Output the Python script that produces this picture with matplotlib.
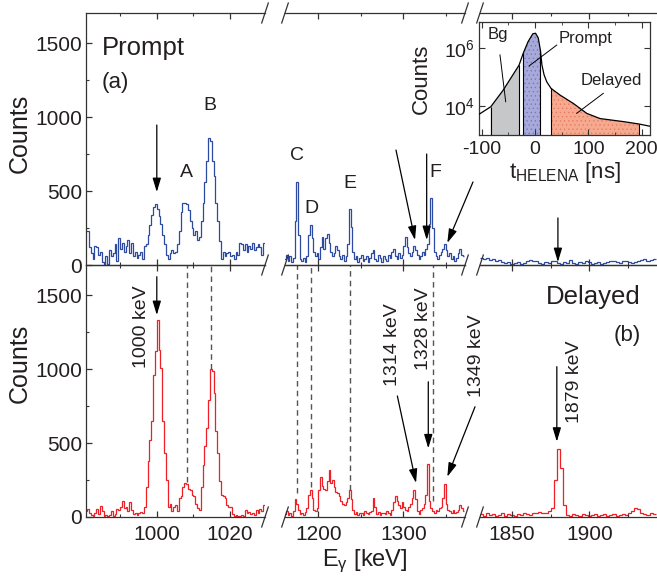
import numpy as np
import matplotlib
matplotlib.use("Agg")
import matplotlib.pyplot as plt
from matplotlib.lines import Line2D
from matplotlib.ticker import MultipleLocator, LogLocator, NullFormatter

plt.rcParams['font.family'] = ['Liberation Sans', 'DejaVu Sans']
plt.rcParams['mathtext.fontset'] = 'custom'
plt.rcParams['mathtext.rm'] = 'Liberation Sans'
plt.rcParams['mathtext.it'] = 'Liberation Sans:italic'
plt.rcParams['mathtext.default'] = 'regular'
plt.rcParams['axes.unicode_minus'] = False
plt.rcParams['hatch.linewidth'] = 0.4

TXT = '#231f20'
BLUE = '#2c4aa0'
RED = '#ee2026'

# ---- spectra (counts per bin) ----
# segment 1: 0.5 keV bins starting at 980.5 keV
start1, width1 = 980.5, 0.5
prompt1 = [230, 230, 120, 80, 40, 130, 120, 70, 90, 20, 0, 60, 10, 100, 60, 80, 140, 30, 180, 110,
           150, 90, 130, 170, 80, 150, 60, 90, 50, 70, 90, 40, 130, 140, 200, 270, 340, 390, 410, 380,
           330, 280, 200, 140, 70, 40, 80, 100, 80, 90, 140, 230, 360, 420, 420, 410, 370, 300, 250, 200,
           230, 170, 190, 300, 420, 560, 700, 860, 840, 700, 600, 420, 300, 160, 40, 90, 60, 80, 90, 60,
           70, 40, 90, 70, 150, 140, 100, 140, 90, 130, 110, 150, 100, 120, 140, 120, 70, 150]
delayed1 = [40, 55, 25, 15, 10, 30, 55, 20, 75, 40, 10, 15, 10, 15, 40, 10, 20, 55, 45, 65,
            110, 60, 70, 40, 100, 50, 20, 25, 15, 30, 35, 25, 70, 200, 380, 520, 650, 960, 1120, 1330,
            1130, 1010, 650, 430, 250, 70, 90, 40, 70, 80, 40, 130, 140, 200, 230, 225, 190, 180, 150, 140,
            90, 60, 50, 200, 350, 480, 600, 790, 1000, 990, 840, 580, 430, 240, 150, 140, 130, 80, 70, 70,
            20, 10, 15, 10, 10, 15, 10, 45, 30, 35, 20, 25, 15, 45, 30, 55, 40, 80]

# segment 2: 2 keV bins starting at 1160 keV
start2, width2 = 1160, 2
prompt2 = [40, 70, 30, 60, 20, 50, 300, 560, 200, 40, 30, 50, 20, 60, 200, 270, 180, 90, 60, 80,
           40, 120, 190, 110, 180, 210, 150, 90, 60, 80, 130, 100, 60, 40, 70, 30, 60, 140, 380, 260,
           90, 40, 60, 20, 50, 70, 30, 40, 60, 20, 50, 80, 100, 40, 30, 70, 50, 20, 60, 40,
           30, 70, 50, 90, 110, 60, 40, 80, 50, 70, 130, 190, 120, 80, 60, 90, 130, 100, 70, 40,
           60, 90, 70, 110, 140, 280, 450, 250, 90, 60, 40, 70, 90, 110, 140, 100, 60, 80, 40, 60,
           30, 50, 80, 110, 70, 60]
delayed2 = [20, 40, 15, 30, 10, 40, 120, 90, 50, 20, 30, 15, 35, 60, 150, 185, 130, 50, 40, 60,
            180, 270, 210, 190, 180, 240, 320, 230, 250, 200, 170, 160, 140, 110, 90, 80, 100, 130, 180, 120,
            50, 20, 35, 15, 25, 30, 15, 40, 25, 20, 35, 40, 130, 70, 20, 35, 15, 25, 30, 20,
            40, 25, 15, 45, 100, 140, 110, 80, 60, 100, 70, 50, 40, 70, 90, 130, 180, 120, 40, 20,
            45, 60, 90, 150, 355, 110, 60, 40, 30, 45, 40, 60, 70, 130, 220, 90, 50, 40, 30, 45,
            30, 35, 50, 80, 60, 40]

# segment 3: 2 keV bins starting at 1829 keV
start3, width3 = 1829, 2
prompt3 = [50, 40, 45, 35, 40, 30, 35, 20, 15, 20, 10, 15, 20, 10, 15, 25, 35, 30, 25, 15,
           10, 20, 15, 30, 25, 15, 10, 20, 15, 35, 15, 10, 20, 15, 25, 20, 10, 15, 20, 10,
           15, 20, 25, 30, 20, 15, 25, 30, 20, 15, 20, 30, 35, 40, 30, 35, 40]
delayed3 = [20, 10, 25, 15, 20, 10, 15, 25, 10, 20, 15, 10, 20, 15, 25, 20, 15, 30, 25, 35,
            25, 30, 40, 60, 250, 460, 330, 80, 15, 10, 20, 15, 10, 20, 15, 10, 15, 20, 10, 15,
            20, 10, 15, 20, 10, 15, 20, 15, 25, 40, 60, 55, 30, 20, 15, 25, 20]

seg_data = [(start1, width1, prompt1, delayed1),
            (start2, width2, prompt2, delayed2),
            (start3, width3, prompt3, delayed3)]
seg_xlim = [(980.7, 1029.5), (1160.8, 1372.6), (1829.3, 1943.8)]
seg_major = [20, 100, 50]
seg_minor = [10, 50, 25]

# dashed marker lines in delayed panel: (segment, energy, lower end in counts)
dash_seg = [0, 0, 1, 1, 1, 1]
dash_x = [1008.3, 1014.9, 1174.6, 1190.9, 1237.3, 1335.0]
dash_low = [235, 1000, 160, 200, 180, 110]

# HELENA time spectrum (inset)
t_ns = np.array([-105, -83, -60, -30, -22, -13, -4, 1, 6, 10, 13, 17, 22, 30, 47, 72, 97, 122, 166, 195, 216])
t_counts = np.array([5200, 9500, 35000, 260000, 680000, 1.7e6, 3.2e6, 3.3e6, 2.3e6, 870000, 260000,
                     120000, 69000, 41000, 24000, 12300, 5600, 3700, 2900, 2400, 2000])
gates = [(-83, -30, '#c6c7c9', '#9a9a9a'), (-22, 10, '#a6a9da', '#6f74b8'), (30, 195, '#f6a98e', '#e07860')]

# ---- layout (pixels) ----
W, H = 657, 581
fig = plt.figure(figsize=(W / 100, H / 100), dpi=100)


def rect(x0, x1, y0, y1):
    return [x0 / W, 1 - y1 / H, (x1 - x0) / W, (y1 - y0) / H]


seg_px = [(86, 265), (285, 465), (480, 657)]
row_px = [(13, 265), (265, 517)]
YMAX = 1703

axes = [[None] * 3 for _ in range(2)]
for i, (y0, y1) in enumerate(row_px):
    for j, (x0, x1) in enumerate(seg_px):
        ax = fig.add_axes(rect(x0, x1, y0, y1))
        axes[i][j] = ax
        st, wd, pr, de = seg_data[j]
        vals = pr if i == 0 else de
        edges = st + wd * np.arange(len(vals) + 1)
        ax.stairs(vals, edges, color=BLUE if i == 0 else RED, lw=0.9, baseline=None)
        ax.set_xlim(*seg_xlim[j])
        ax.set_ylim(0, YMAX)
        ax.patch.set_alpha(0)
        for s in ax.spines.values():
            s.set_color('#333333')
            s.set_linewidth(0.9)
        ax.spines['right'].set_visible(False)
        ax.spines['left'].set_visible(j == 0)
        ax.xaxis.set_major_locator(MultipleLocator(seg_major[j]))
        ax.xaxis.set_minor_locator(MultipleLocator(seg_minor[j]))
        ax.yaxis.set_major_locator(MultipleLocator(500))
        ax.yaxis.set_minor_locator(MultipleLocator(250))
        ax.tick_params(which='both', direction='in', top=True, bottom=True,
                       left=(j == 0), right=False, colors='#333333',
                       labelcolor=TXT, labelsize=15)
        ax.tick_params(which='major', length=4.5, width=0.9)
        ax.tick_params(which='minor', length=2.5, width=0.8)
        ax.tick_params(axis='x', pad=6, labelbottom=(i == 1))
        ax.tick_params(axis='y', pad=3, labelleft=(j == 0))

# dashed lines in delayed panel
for s, x, lo in zip(dash_seg, dash_x, dash_low):
    axes[1][s].vlines(x, lo, YMAX, colors='#555555', linestyles=(0, (4, 3)), lw=1.0)

# broken-axis marks
for xp in [265, 285, 465, 480]:
    for yp in [13, 265, 517]:
        fig.add_artist(Line2D([(xp - 3.3) / W, (xp + 3.3) / W],
                              [1 - (yp + 10) / H, 1 - (yp - 10) / H],
                              color='#333333', lw=0.9))

# axis labels
fig.text(20 / W, 1 - 133 / H, 'Counts', rotation=90, ha='center', va='center', fontsize=18, color=TXT)
fig.text(20 / W, 1 - 363 / H, 'Counts', rotation=90, ha='center', va='center', fontsize=18, color=TXT)
fig.text(365 / W, 1 - 561 / H, r'E$_{\gamma}$ [keV]', ha='center', va='center', fontsize=17, color=TXT)

# panel texts
fig.text(102 / W, 1 - 48 / H, 'Prompt', ha='left', va='center', fontsize=18.5, color=TXT)
fig.text(102 / W, 1 - 83 / H, '(a)', ha='left', va='center', fontsize=16, color=TXT)
fig.text(546 / W, 1 - 297 / H, 'Delayed', ha='left', va='center', fontsize=18.5, color=TXT)
fig.text(627 / W, 1 - 335 / H, '(b)', ha='center', va='center', fontsize=16, color=TXT)

ap = dict(arrowstyle='-|>,head_length=0.6,head_width=0.18', mutation_scale=14,
          color='black', lw=0.9, shrinkA=0, shrinkB=0)


def arrow(ax, x0, y0, x1, y1):
    ax.annotate('', xy=(x1, y1), xytext=(x0, y0), arrowprops=ap, annotation_clip=False)


# prompt panel annotations
a0, a1, a2 = axes[0]
for ax, lab, x, y in [(a0, 'A', 1008.2, 622), (a0, 'B', 1014.5, 1081), (a1, 'C', 1174.6, 743),
                      (a1, 'D', 1191.4, 385), (a1, 'E', 1237.3, 554), (a1, 'F', 1337.3, 622)]:
    ax.text(x, y, lab, ha='center', va='center', fontsize=14, color=TXT)
arrow(a0, 1000, 946, 1000, 493)
arrow(a1, 1291.4, 777, 1313.8, 169)
arrow(a1, 1327.5, 750, 1327.5, 169)
arrow(a1, 1382, 561, 1351.8, 149)
arrow(a2, 1879.7, 318, 1879.7, 20)

# delayed panel annotations
b0, b1, b2 = axes[1]
arrow(b0, 1000, 1624, 1000, 1365)
arrow(b1, 1293, 818, 1315, 230)
arrow(b1, 1329.4, 914, 1329.4, 464)
arrow(b1, 1384.4, 745, 1351.8, 272)
arrow(b2, 1879, 1016, 1879, 509)
for ax, lab, x, y in [(b0, '1000 keV', 995.9, 1286), (b1, '1314 keV', 1287.5, 1162),
                      (b1, '1328 keV', 1323.5, 1270), (b2, '1349 keV', 1827.2, 1088),
                      (b2, '1879 keV', 1890.2, 916)]:
    ax.text(x, y, lab, rotation=90, ha='center', va='center', fontsize=14, color=TXT)

# ---- inset ----
axi = fig.add_axes(rect(479.3, 650, 21.7, 135))
axi.set_yscale('log')
axi.set_xlim(-104.5, 215.6)
axi.set_ylim(1e3, 8.3e6)
for lo, hi, fc, hc in gates:
    m = (t_ns >= lo) & (t_ns <= hi)
    axi.fill_between(t_ns[m], 1e3, t_counts[m], facecolor=fc, edgecolor='none', zorder=1)
    axi.fill_between(t_ns[m], 1e3, t_counts[m], facecolor='none', edgecolor=hc,
                     hatch='....' if lo > -50 else None, lw=0, zorder=1.5)
    axi.vlines([lo, hi], 1e3, t_counts[m][[0, -1]], colors='black', lw=0.8, zorder=2)
axi.plot(t_ns, t_counts, color='black', lw=0.9, zorder=3)
axi.xaxis.set_major_locator(MultipleLocator(100))
axi.xaxis.set_minor_locator(MultipleLocator(50))
axi.set_yticks([1e4, 1e6], [r'$10^4$', r'$10^6$'])
axi.yaxis.set_minor_locator(LogLocator(base=10, subs=np.arange(1, 10)))
axi.yaxis.set_minor_formatter(NullFormatter())
for s in axi.spines.values():
    s.set_color('#333333')
    s.set_linewidth(0.9)
axi.tick_params(which='both', direction='in', top=True, right=True, colors='#333333',
                labelcolor=TXT, labelsize=14)
axi.tick_params(which='major', length=4, width=0.8, pad=3)
axi.tick_params(axis='x', pad=4)
axi.tick_params(which='minor', length=2, width=0.6)
axi.set_ylabel('Counts', fontsize=16, color=TXT)
axi.yaxis.set_label_coords(-0.277, 0.5)
axi.text(0.50, -0.33, r't$_{HELENA}$ [ns]', transform=axi.transAxes, ha='center', va='center',
         fontsize=16, color=TXT)
axi.text(-68.8, 10 ** 6.46, 'Bg', ha='center', va='center', fontsize=12, color=TXT)
axi.text(95, 10 ** 6.35, 'Prompt', ha='center', va='center', fontsize=12, color=TXT)
axi.text(143.8, 10 ** 4.9, 'Delayed', ha='center', va='center', fontsize=12, color=TXT)
axi.plot([-65.7, -55], [10 ** 5.77, 10 ** 4.15], color='black', lw=0.7, zorder=4)
axi.plot([40.7, -11], [10 ** 6.11, 10 ** 5.39], color='black', lw=0.7, zorder=4)
axi.plot([128, 78.2], [10 ** 4.44, 10 ** 3.75], color='black', lw=0.7, zorder=4)

fig.savefig('out.png', dpi=100)
